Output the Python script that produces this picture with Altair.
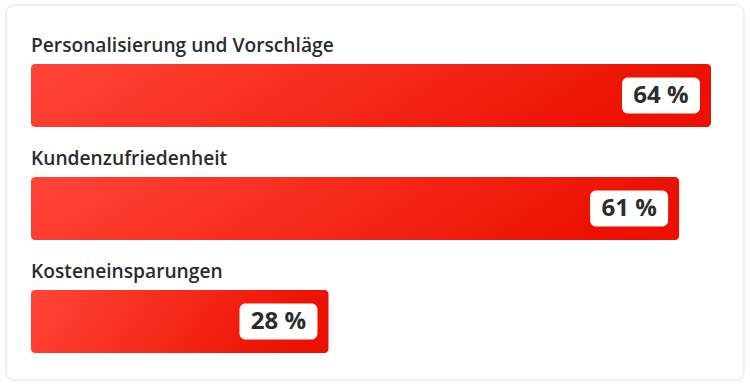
import altair as alt
import pandas as pd

categories = ["Personalisierung und Vorschläge", "Kundenzufriedenheit", "Kosteneinsparungen"]
values = [64, 61, 28]
labels = ["64 %", "61 %", "28 %"]

df = pd.DataFrame({"cat": categories, "val": values, "lab": labels})

y_enc = alt.Y("cat:N", sort=None, axis=None,
              scale=alt.Scale(paddingInner=0.4425, paddingOuter=0.3805, align=0.686))
x_scale = alt.Scale(domain=[-2.3529, 67.106], zero=False, nice=False)

grad = alt.Gradient(
    gradient="linear",
    stops=[alt.GradientStop(color="#ff4538", offset=0),
           alt.GradientStop(color="#eb1000", offset=1)],
    x1=0, x2=1, y1=0, y2=0.15,
)

base = alt.Chart(df)

bars = base.mark_bar(fill=grad, cornerRadius=4).encode(
    x=alt.X("val:Q", scale=x_scale, axis=None),
    x2=alt.datum(0),
    y=y_enc,
)

cat_text = base.mark_text(
    align="left", baseline="alphabetic", dy=-43, font="Open Sans",
    fontSize=19.2, fontWeight=600, color="#2c2c2c",
).encode(
    x=alt.datum(0, scale=x_scale),
    y=y_enc,
    text="cat:N",
)

boxes = base.mark_rect(
    fill="white", cornerRadius=6, xOffset=-89, x2Offset=-11, height=36,
).encode(
    x=alt.X("val:Q", scale=x_scale),
    x2="val:Q",
    y=y_enc,
)

val_text = base.mark_text(
    align="center", baseline="middle", dx=-50, dy=1, font="Open Sans",
    fontSize=24, fontWeight="bold", color="#2c2c2c",
).encode(
    x=alt.X("val:Q", scale=x_scale),
    y=y_enc,
    text="lab:N",
)

chart = alt.layer(bars, cat_text, boxes, val_text).properties(
    width=738, height=375,
    autosize=alt.AutoSizeParams(type="none"),
    padding={"left": 6, "top": 5, "right": 6, "bottom": 7},
    background="white",
).configure_view(
    fill="white", stroke="#ececec", strokeWidth=1.5, cornerRadius=8,
)

chart.save("out.html", embed_options={"renderer": "svg", "actions": False})
